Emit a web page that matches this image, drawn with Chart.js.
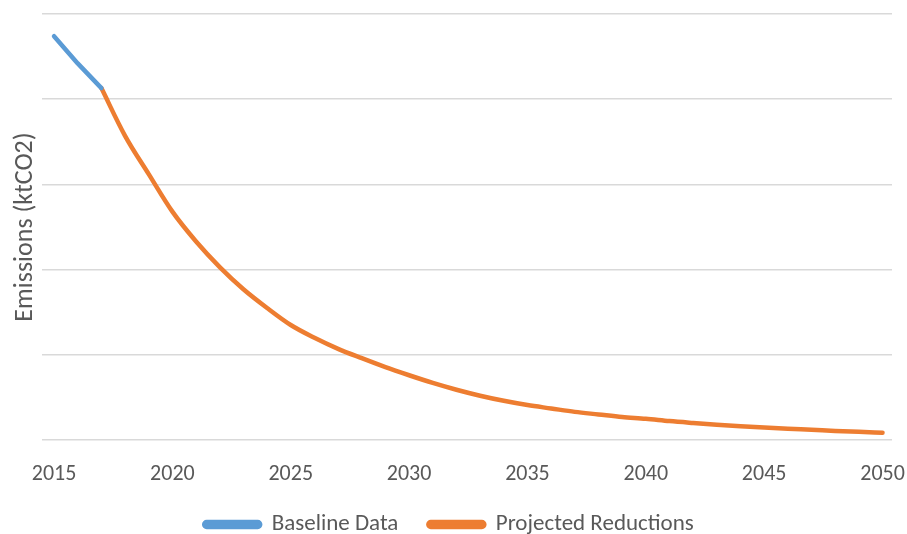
<!DOCTYPE html>
<html>
<head>
<meta charset="utf-8">
<script src="https://cdn.jsdelivr.net/npm/chart.js@4/dist/chart.umd.min.js"></script>
<style>
  html, body { margin: 0; padding: 0; background: #ffffff; }
  #wrap { width: 907px; height: 534px; }
</style>
</head>
<body>
<div id="wrap"><canvas id="chart" width="907" height="534"></canvas></div>
<script>
// Emissions pathway: recorded baseline years, then the projected reduction curve
const baselineYears = [2015, 2016, 2017];
const baselineValues = [4.74, 4.42, 4.13];

const projectedYears = [2017, 2018, 2019, 2020, 2021, 2022, 2023, 2024, 2025, 2026,
  2027, 2028, 2029, 2030, 2031, 2032, 2033, 2034, 2035, 2036, 2037, 2038, 2039, 2040,
  2041, 2042, 2043, 2044, 2045, 2046, 2047, 2048, 2049, 2050];
const projectedValues = [4.13, 3.57, 3.12, 2.68, 2.33, 2.03, 1.77, 1.55, 1.35, 1.20,
  1.07, 0.96, 0.855, 0.76, 0.67, 0.59, 0.52, 0.46, 0.41, 0.37, 0.33, 0.30, 0.27, 0.25,
  0.222, 0.20, 0.18, 0.162, 0.146, 0.132, 0.12, 0.107, 0.096, 0.086];

const xTickYears = [2015, 2020, 2025, 2030, 2035, 2040, 2045, 2050];

const FONT = "Carlito, Lato, 'Open Sans', sans-serif";
const TEXT = '#595959';

const toPoints = (xs, ys) => xs.map((x, i) => ({ x: x, y: ys[i] }));

// the year axis is kept short so the legend sits near it; let its labels
// draw past the axis box instead of being clipped
const yearLabelRoom = {
  id: 'yearLabelRoom',
  afterLayout(chart) {
    const x = chart.scales.x;
    x.bottom = x.top + 70;
  }
};

new Chart(document.getElementById('chart'), {
  type: 'line',
  data: {
    datasets: [
      {
        label: 'Baseline Data',
        data: toPoints(baselineYears, baselineValues),
        borderColor: '#5B9BD5',
        backgroundColor: '#5B9BD5',
        borderWidth: 4.5,
        borderCapStyle: 'round',
        borderJoinStyle: 'round',
        pointRadius: 0,
        tension: 0
      },
      {
        label: 'Projected Reductions',
        data: toPoints(projectedYears, projectedValues),
        borderColor: '#ED7D31',
        backgroundColor: '#ED7D31',
        borderWidth: 4.5,
        borderCapStyle: 'round',
        borderJoinStyle: 'round',
        pointRadius: 0,
        cubicInterpolationMode: 'monotone'
      }
    ]
  },
  plugins: [yearLabelRoom],
  options: {
    responsive: false,
    animation: false,
    layout: { padding: { left: 6, right: 15, top: 14, bottom: -12 } },
    plugins: {
      tooltip: { enabled: false },
      legend: {
        position: 'bottom',
        labels: {
          font: { family: FONT, size: 23 },
          color: TEXT,
          boxWidth: 56,
          boxHeight: 5,
          useBorderRadius: true,
          borderRadius: 2.5,
          padding: 30
        }
      }
    },
    scales: {
      x: {
        type: 'linear',
        min: 2014.5,
        max: 2050.4,
        afterBuildTicks: (axis) => { axis.ticks = xTickYears.map(v => ({ value: v })); },
        afterFit: (axis) => {
          axis.height = 43;
          axis.paddingLeft = 0;
          axis.paddingRight = 0;
        },
        grid: { display: false, drawTicks: false },
        border: { display: false },
        ticks: {
          font: { family: FONT, size: 22 },
          color: TEXT,
          padding: 21,
          maxRotation: 0,
          autoSkip: false,
          callback: (v) => String(v)
        }
      },
      y: {
        min: 0,
        max: 5,
        ticks: { display: false, stepSize: 1 },
        grid: { color: '#D9D9D9', lineWidth: 1.5, drawTicks: false },
        border: { display: false },
        title: {
          display: true,
          text: 'Emissions (ktCO2)',
          font: { family: FONT, size: 26 },
          color: TEXT,
          padding: { top: 4, bottom: 1 }
        }
      }
    }
  }
});
</script>
</body>
</html>
